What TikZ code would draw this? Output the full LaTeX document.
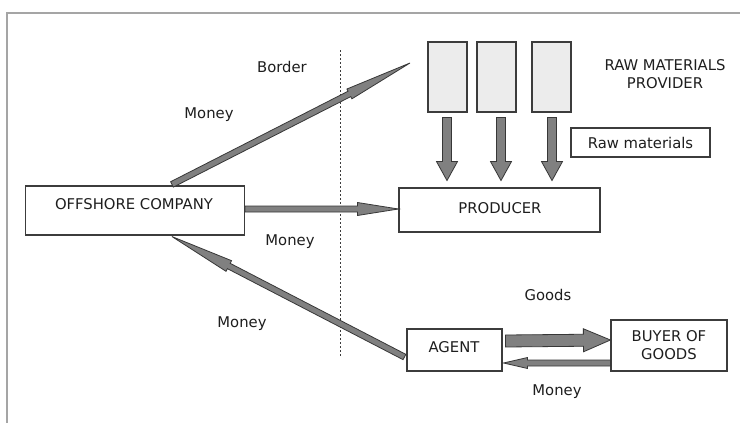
\documentclass[tikz,border=0pt]{standalone}
\usepackage{fontspec}
\setmainfont{DejaVu Sans}
\usetikzlibrary{calc}
\definecolor{framegray}{RGB}{165,165,165}
\definecolor{boxline}{RGB}{60,60,60}
\definecolor{arrfill}{RGB}{128,128,128}
\definecolor{arrline}{RGB}{55,55,55}
\definecolor{txt}{RGB}{30,30,30}
\definecolor{rawfill}{RGB}{236,236,236}
\tikzset{
  box/.style={draw=boxline, line width=1.1pt, inner sep=0pt, text=txt, font=\fontsize{14.8}{18}\selectfont, align=center},
  lbl/.style={text=txt, font=\fontsize{14.8}{18}\selectfont, inner sep=0pt, align=center},
  rawbox/.style={draw=boxline, line width=1.1pt, fill=rawfill, inner sep=0pt, minimum width=39pt, minimum height=70pt},
  arrowbody/.style={fill=arrfill, draw=arrline, line width=0.8pt, line join=miter},
  borderline/.style={draw=boxline, line width=1pt, dash pattern=on 2pt off 2pt},
  frameline/.style={draw=framegray, line width=2pt},
}
\newcommand{\blockarrow}[5]{%
  \coordinate (ba-h) at ($(#2)!#5!(#1)$);
  \filldraw[arrowbody] ($(#1)!#3!90:(#2)$) -- ($(ba-h)!#3!90:(#2)$) -- ($(ba-h)!#4!90:(#2)$) -- (#2) -- ($(ba-h)!#4!-90:(#2)$) -- ($(ba-h)!#3!-90:(#2)$) -- ($(#1)!#3!-90:(#2)$) -- cycle;
}
\begin{document}
\begin{tikzpicture}[x=1pt,y=-1pt]
\useasboundingbox (0,0) rectangle (740,423);
\fill[white] (0,0) rectangle (740,423);
% frame
\coordinate (f1) at (7,423);
\coordinate (f2) at (7,13);
\coordinate (f3) at (740,13);
\draw[frameline] (f1) -- (f2) -- (f3);
% border line
\coordinate (bt) at (340,50);
\coordinate (bb) at (340,357);
\draw[borderline] (bt) -- (bb);
% boxes
\node[box, minimum width=219pt, minimum height=49pt] (off) at (135,210.5) {};
\node[lbl] (offt) at (134,204) {OFFSHORE COMPANY};
\node[box, minimum width=201pt, minimum height=44pt] (prod) at (499.5,210) {};
\node[lbl] (prodt) at (500,208) {PRODUCER};
\node[rawbox] (r1) at (447.5,77) {};
\node[rawbox] (r2) at (496.5,77) {};
\node[rawbox] (r3) at (551.5,77) {};
\node[lbl] (rmp) at (665,74) {RAW MATERIALS\\PROVIDER};
\node[box, minimum width=139pt, minimum height=29pt] (rawm) at (640.5,142.5) {Raw materials};
\node[box, minimum width=95pt, minimum height=42pt] (agent) at (454.5,350) {};
\node[lbl] (agentt) at (454,347) {AGENT};
\node[box, minimum width=116pt, minimum height=51pt] (buyer) at (669,345.5) {BUYER OF\\GOODS};
% labels
\node[lbl] (lborder) at (282,67) {Border};
\node[lbl] (lm1) at (209,115) {Money};
\node[lbl] (lm2) at (290,242) {Money};
\node[lbl] (lm3) at (242,324) {Money};
\node[lbl] (lgoods) at (548,295) {Goods};
\node[lbl] (lm4) at (557,392) {Money};
% arrows
\coordinate (a1s) at ($(off.north west)+(147,-1)$);
\coordinate (rawtip) at (410,63);
\blockarrow{a1s}{rawtip}{3pt}{5.5pt}{68pt}
\coordinate (a2s) at ($(off.east)+(0,-1.5)$);
\coordinate (a2e) at ($(prod.west)+(0,-1)$);
\blockarrow{a2s}{a2e}{3pt}{6.5pt}{41pt}
\coordinate (a3s) at ($(agent.west)+(-2,7)$);
\coordinate (a3e) at ($(off.south west)+(147,1)$);
\blockarrow{a3s}{a3e}{3pt}{6pt}{64pt}
\coordinate (a4s) at ($(agent.east)+(3,-9)$);
\coordinate (a4e) at ($(buyer.west)+(0,-5.5)$);
\blockarrow{a4s}{a4e}{6pt}{11.5pt}{27pt}
\coordinate (a5s) at ($(buyer.west)+(0,17.5)$);
\coordinate (a5e) at ($(agent.east)+(1,13)$);
\blockarrow{a5s}{a5e}{3pt}{5.5pt}{24pt}
\coordinate (d1s) at ($(r1.south)+(-0.5,5)$);
\coordinate (d1e) at ($(r1.south)+(-0.5,68)$);
\blockarrow{d1s}{d1e}{4.5pt}{10.5pt}{19pt}
\coordinate (d2s) at ($(r2.south)+(4.5,5)$);
\coordinate (d2e) at ($(r2.south)+(4.5,68)$);
\blockarrow{d2s}{d2e}{4.5pt}{10.5pt}{19pt}
\coordinate (d3s) at ($(r3.south)+(0.5,5)$);
\coordinate (d3e) at ($(r3.south)+(0.5,68)$);
\blockarrow{d3s}{d3e}{4.5pt}{10.5pt}{19pt}
\end{tikzpicture}
\end{document}
